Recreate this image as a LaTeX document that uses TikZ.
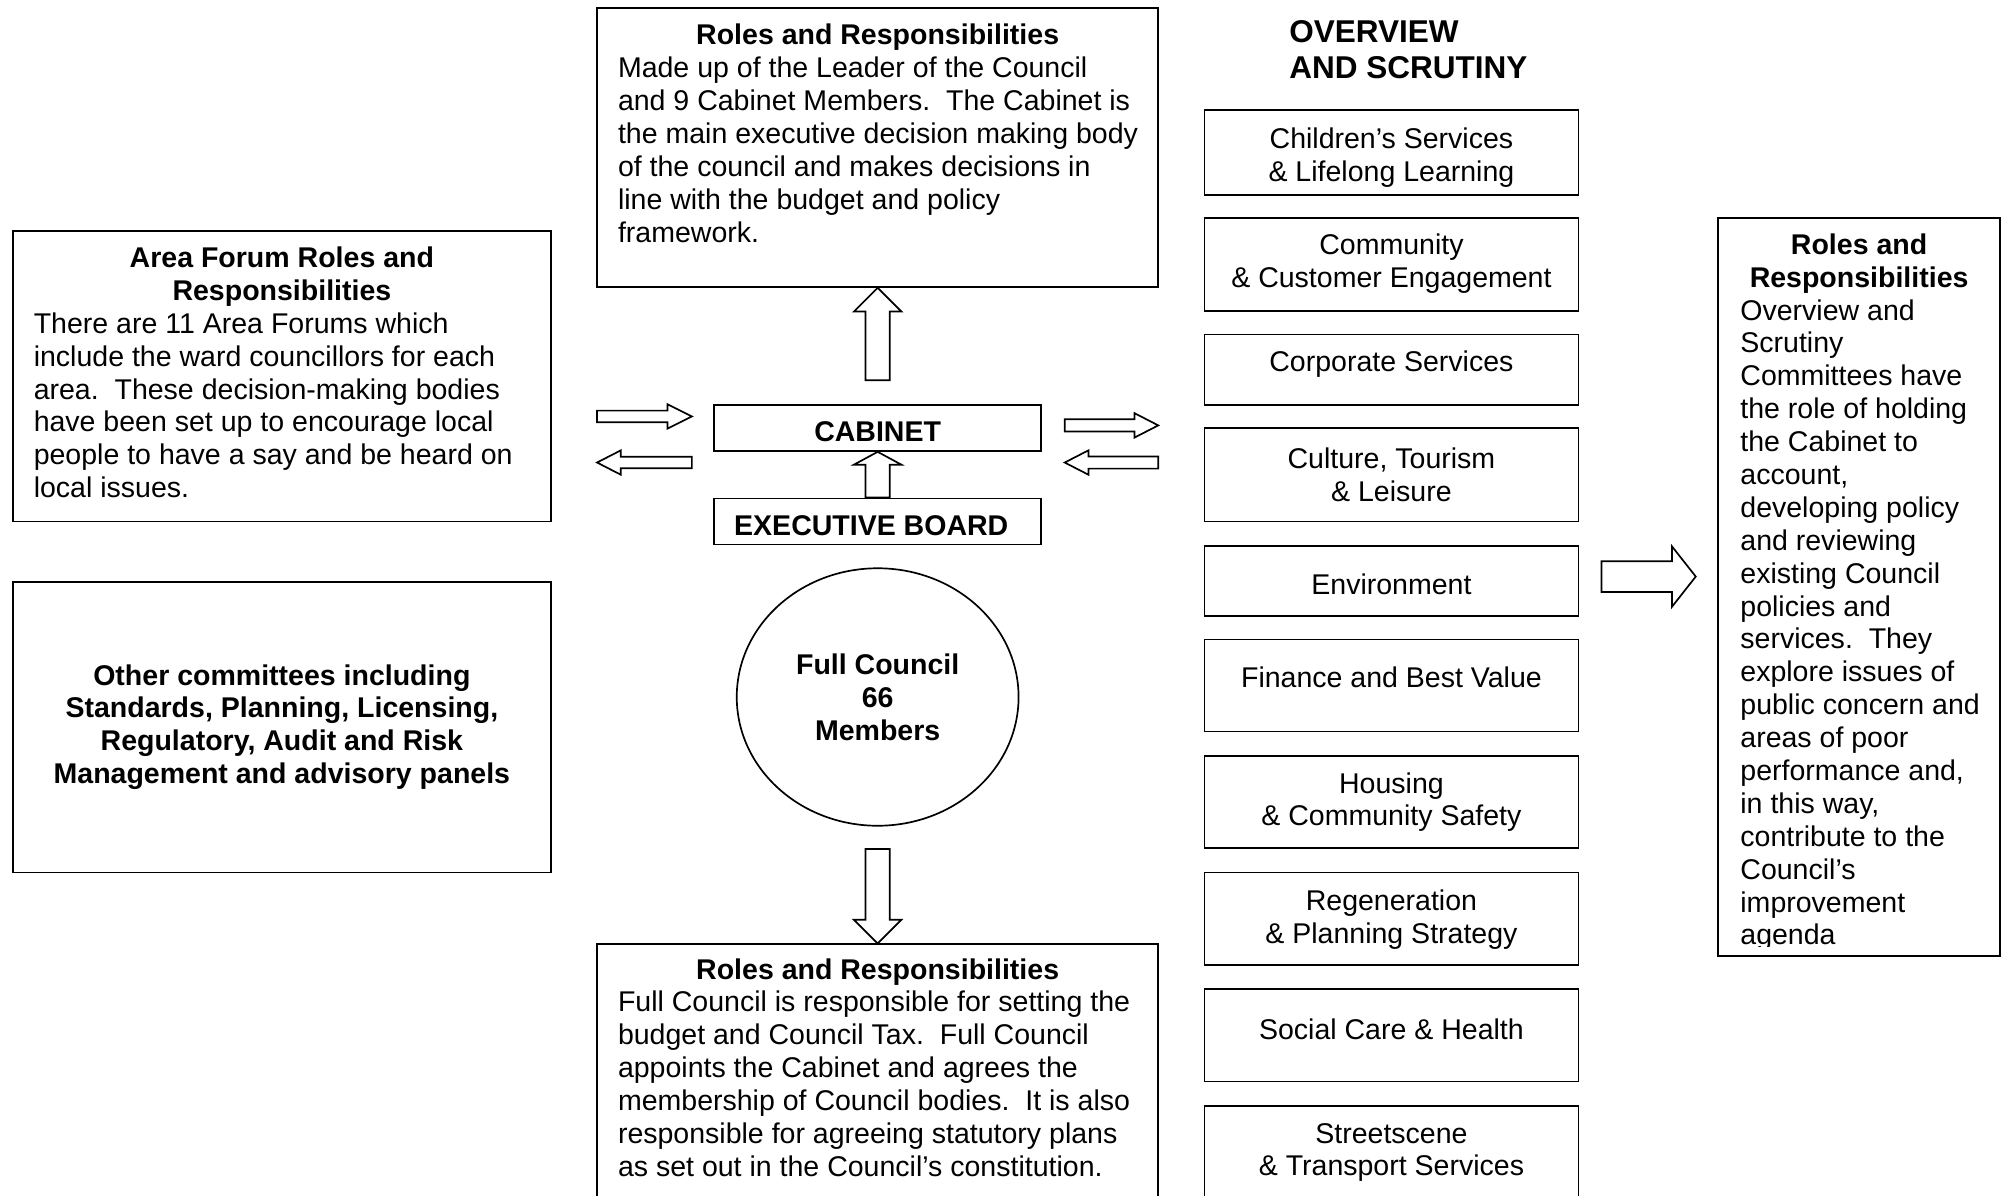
\documentclass[tikz,border=0pt]{standalone}
\usepackage{fontspec}
\setmainfont{Liberation Sans}
\usetikzlibrary{calc,shapes.geometric}

\newcommand{\bodysize}{\fontsize{12.67pt}{14.61pt}\selectfont}

\begin{document}
\begin{tikzpicture}[x=0.02cm, y=-0.02cm, font=\bodysize,
      box/.style={draw, line width=0.75pt, inner sep=0pt},
      sv/.style={box, minimum width=5.84cm},
      txt/.style={inner sep=0pt, align=center},
      hd/.style={txt, font=\bodysize\bfseries},
      body/.style={inner sep=0pt, align=left, anchor=base west},
      blk/.style n args={3}{draw, fill=white, line width=0.75pt, line join=miter,
        to path={let \p1=($(\tikztotarget)!#3!(\tikztostart)$) in
          ($(\tikztostart)!#1!90:(\tikztotarget)$) -- ($(\p1)!#1!90:(\tikztotarget)$)
          -- ($(\p1)!#2!90:(\tikztotarget)$) -- (\tikztotarget)
          -- ($(\p1)!#2!-90:(\tikztotarget)$) -- ($(\p1)!#1!-90:(\tikztotarget)$)
          -- ($(\tikztostart)!#1!-90:(\tikztotarget)$) -- cycle}}]
      \clip (0,0) rectangle (1568,933);

      % centre column (body nodes sit on the baseline of their last line)
      \node[box, minimum width=8.76cm, minimum height=4.36cm] (cabrole) at (685,115) {};
      \node[hd] (cabroleh) at (685,29) {Roles and Responsibilities};
      \node[body] (cabroleb) at (482,189) {Made up of the Leader of the Council\\
        and 9 Cabinet Members.\ \ The Cabinet is\\
        the main executive decision making body\\
        of the council and makes decisions in\\
        line with the budget and policy\\
        framework.};
      \node[box, minimum width=5.1cm, minimum height=0.72cm] (cab) at (685,334) {};
      \node[hd] (cabt) at (685,337) {CABINET};
      \node[box, minimum width=5.1cm, minimum height=0.72cm] (exec) at (685,407) {};
      \node[hd] (exect) at (680,410) {EXECUTIVE BOARD};
      \node[box, ellipse, minimum width=4.4cm, minimum height=4.02cm, align=center,
            font=\bodysize\bfseries] (council) at (685,544) {Full Council\\66\\Members};
      \node[box, minimum width=8.76cm, minimum height=4.6cm] (fcrole) at (685,852) {};
      \node[hd] (fcroleh) at (685,759) {Roles and Responsibilities};
      \node[body] (fcroleb) at (482,918) {Full Council is responsible for setting the\\
        budget and Council Tax.\ \ Full Council\\
        appoints the Cabinet and agrees the\\
        membership of Council bodies.\ \ It is also\\
        responsible for agreeing statutory plans\\
        as set out in the Council’s constitution.};

      % left column
      \node[box, minimum width=8.4cm, minimum height=4.54cm] (forum) at (220,293.5) {};
      \node[hd] (forumh) at (220,216) {Area Forum Roles and\\Responsibilities};
      \node[body] (forumb) at (26,388.5) {There are 11 Area Forums which\\
        include the ward councillors for each\\
        area.\ \ These decision-making bodies\\
        have been set up to encourage local\\
        people to have a say and be heard on\\
        local issues.};
      \node[box, minimum width=8.4cm, minimum height=4.54cm, align=center,
            font=\bodysize\bfseries] (other) at (220,567.5)
            {Other committees including\\Standards, Planning, Licensing,\\
             Regulatory, Audit and Risk\\Management and advisory panels};

      % overview and scrutiny
      \node[body, font=\fontsize{14pt}{15.93pt}\selectfont\bfseries] (ostitle) at (1006,61)
            {OVERVIEW\\AND SCRUTINY};
      \node[sv, minimum height=1.32cm] (chil) at (1086,119) {};
      \node[txt] (chilt) at (1086,123) {Children’s Services\\\& Lifelong Learning};
      \node[sv, minimum height=1.46cm] (comm) at (1086,206.5) {};
      \node[txt] (commt) at (1086,206) {Community\\\& Customer Engagement};
      \node[sv, minimum height=1.1cm] (corp) at (1086,288.5) {};
      \node[txt] (corpt) at (1086,284) {Corporate Services};
      \node[sv, minimum height=1.46cm] (cult) at (1086,370.5) {};
      \node[txt] (cultt) at (1086,370.5) {Culture, Tourism\\\& Leisure};
      \node[sv, minimum height=1.1cm] (env) at (1086,453.5) {};
      \node[txt] (envt) at (1086,456) {Environment};
      \node[sv, minimum height=1.44cm] (fin) at (1086,535) {};
      \node[txt] (fint) at (1086,529) {Finance and Best Value};
      \node[sv, minimum height=1.44cm] (hous) at (1086,626) {};
      \node[txt] (houst) at (1086,626) {Housing\\\& Community Safety};
      \node[sv, minimum height=1.44cm] (regen) at (1086,717) {};
      \node[txt] (regent) at (1086,717.5) {Regeneration\\\& Planning Strategy};
      \node[sv, minimum height=1.44cm] (soc) at (1086,808) {};
      \node[txt] (soct) at (1086,803) {Social Care \& Health};
      \node[sv, minimum height=1.44cm] (street) at (1086,899) {};
      \node[txt] (streett) at (1086,899.5) {Streetscene\\\& Transport Services};

      % right column
      \node[box, minimum width=4.4cm, minimum height=11.52cm] (osrole) at (1451,458) {};
      \node[hd] (osroleh) at (1451,206) {Roles and\\Responsibilities};
      \begin{scope}
        \clip (osrole.north west) rectangle ($(osrole.east)+(0,281)$);
        \node[body] (osroleb) at (1358,737.5) {Overview and\\Scrutiny\\Committees have\\
          the role of holding\\the Cabinet to\\account,\\developing policy\\
          and reviewing\\existing Council\\policies and\\services.\ \ They\\
          explore issues of\\public concern and\\areas of poor\\performance and,\\
          in this way,\\contribute to the\\Council’s\\improvement\\agenda};
      \end{scope}

      % block arrows
      \coordinate (fin1) at (466,325); \coordinate (fin2) at (540,325);
      \coordinate (fout1) at (540,361);  \coordinate (fout2) at (466,361);
      \coordinate (oin1) at (831,332);   \coordinate (oin2) at (904,332);
      \coordinate (oout1) at (904,361);  \coordinate (oout2) at (831,361);
      \coordinate (rr1) at (1250,450);   \coordinate (rr2) at (1323.5,450);
      \draw[blk={0.09cm}{0.19cm}{0.38cm}] (fin1) to (fin2);
      \draw[blk={0.09cm}{0.19cm}{0.37cm}] (fout1) to (fout2);
      \draw[blk={0.095cm}{0.19cm}{0.37cm}] (oin1) to (oin2);
      \draw[blk={0.095cm}{0.19cm}{0.37cm}] (oout1) to (oout2);
      \draw[blk={0.24cm}{0.47cm}{0.37cm}] (rr1) to (rr2);
      \draw[blk={0.19cm}{0.37cm}{0.37cm}] ($(cab.north)+(0,-18.5)$) to (cabrole.south);
      \draw[blk={0.19cm}{0.37cm}{0.2cm}] (exec.north) to (cab.south);
      \draw[blk={0.19cm}{0.37cm}{0.37cm}] ($(council.south)+(0,17.5)$) to (fcrole.north);
    \end{tikzpicture}
\end{document}
